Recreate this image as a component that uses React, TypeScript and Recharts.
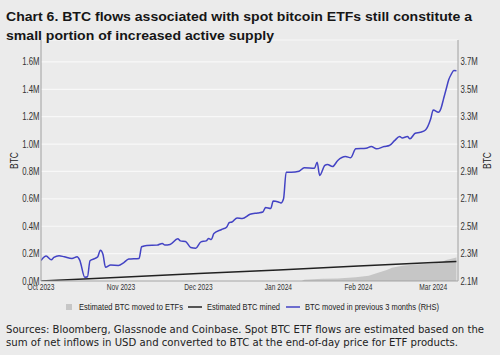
import { ComposedChart, Line, Area, XAxis, YAxis, CartesianGrid } from "recharts";

// values in millions of BTC
const monthTicks = ["2023-10-01", "2023-11-01", "2023-12-01", "2024-01-01", "2024-02-01", "2024-03-01"];
const monthLabels = ["Oct 2023", "Nov 2023", "Dec 2023", "Jan 2024", "Feb 2024", "Mar 2024"];
const leftTicks = [0, 0.2, 0.4, 0.6, 0.8, 1.0, 1.2, 1.4, 1.6];
const rightTicks = [2.1, 2.3, 2.5, 2.7, 2.9, 3.1, 3.3, 3.5, 3.7];

const activeDates = [
  "2023-10-01", "2023-10-03", "2023-10-05", "2023-10-06", "2023-10-08", "2023-10-10", "2023-10-13",
  "2023-10-15", "2023-10-16", "2023-10-18", "2023-10-19", "2023-10-20", "2023-10-22", "2023-10-23",
  "2023-10-24", "2023-10-25", "2023-10-26", "2023-10-28", "2023-10-31", "2023-11-02", "2023-11-04",
  "2023-11-08", "2023-11-09", "2023-11-11", "2023-11-15", "2023-11-17", "2023-11-18", "2023-11-20",
  "2023-11-23", "2023-11-24", "2023-11-26", "2023-11-28", "2023-11-30", "2023-12-02", "2023-12-04",
  "2023-12-05", "2023-12-06", "2023-12-07", "2023-12-10", "2023-12-12", "2023-12-13", "2023-12-14",
  "2023-12-16", "2023-12-18", "2023-12-21", "2023-12-24", "2023-12-26", "2023-12-27", "2023-12-29",
  "2023-12-30", "2024-01-01", "2024-01-02", "2024-01-03", "2024-01-04", "2024-01-06", "2024-01-09",
  "2024-01-11", "2024-01-15", "2024-01-16", "2024-01-17", "2024-01-19", "2024-01-20", "2024-01-22",
  "2024-01-24", "2024-01-27", "2024-01-29", "2024-01-31", "2024-02-04", "2024-02-06", "2024-02-08",
  "2024-02-11", "2024-02-13", "2024-02-15", "2024-02-17", "2024-02-18", "2024-02-20", "2024-02-21",
  "2024-02-23", "2024-02-25", "2024-02-27", "2024-02-29", "2024-03-01", "2024-03-03", "2024-03-04",
  "2024-03-05", "2024-03-06", "2024-03-07", "2024-03-08", "2024-03-09", "2024-03-10",
];
const activeValues = [
  2.25, 2.282, 2.255, 2.272, 2.284, 2.277, 2.265,
  2.277, 2.253, 2.127, 2.131, 2.248, 2.265, 2.277,
  2.325, 2.296, 2.2, 2.216, 2.214, 2.233, 2.26,
  2.265, 2.35, 2.36, 2.362, 2.374, 2.362, 2.367,
  2.408, 2.393, 2.389, 2.345, 2.34, 2.386, 2.393,
  2.41, 2.403, 2.447, 2.476, 2.495, 2.527, 2.531,
  2.56, 2.556, 2.587, 2.597, 2.604, 2.636, 2.629,
  2.684, 2.677, 2.67, 2.701, 2.895, 2.895, 2.902,
  2.927, 2.924, 2.968, 2.871, 2.944, 2.951, 2.936,
  2.98, 3.009, 3.0, 3.065, 3.069, 3.082, 3.065,
  3.082, 3.089, 3.125, 3.155, 3.145, 3.155, 3.138,
  3.179, 3.186, 3.203, 3.283, 3.349, 3.332, 3.36,
  3.43, 3.5, 3.57, 3.61, 3.638, 3.636,
];

const minedDates = ["2023-10-01", "2023-11-01", "2023-12-01", "2024-01-01", "2024-02-01", "2024-03-01", "2024-03-10"];
const minedValues = [0, 0.028, 0.054, 0.081, 0.109, 0.135, 0.143];

const etfDates = [
  "2024-01-10", "2024-01-11", "2024-01-18", "2024-01-24", "2024-01-31", "2024-02-05", "2024-02-08",
  "2024-02-12", "2024-02-14", "2024-02-18", "2024-02-23", "2024-02-29", "2024-03-04", "2024-03-06", "2024-03-10",
];
const etfValues = [0, 0.01, 0.017, 0.019, 0.027, 0.039, 0.056, 0.08, 0.097, 0.111, 0.121, 0.126, 0.136, 0.153, 0.172];

const DAY = 86400000;
const ts = (d: string) => Date.parse(d + "T00:00:00Z");
const xStart = ts("2023-10-01");
const xEnd = ts("2024-03-10") + 0.6 * DAY;
const monthTs = monthTicks.map(ts);

const activeData = activeDates.map((d, i) => ({ t: ts(d), v: activeValues[i] }));
const minedData = minedDates.map((d, i) => ({ t: ts(d), v: minedValues[i] }));
const etfData = etfDates.map((d, i) => ({ t: ts(d), v: etfValues[i] }));

const SANS = '"Liberation Sans", Arial, sans-serif';
const BLUE = "#4343c4";
const SQUEEZE = 0.78; // no narrow font installed, so squeeze Arial

const NarrowTick = (props: any) => {
  const { x, y, payload, anchor, dy, size, label } = props;
  return (
    <g transform={`translate(${x},${y})`}>
      <text
        transform={`scale(${SQUEEZE},1)`}
        textAnchor={anchor}
        dy={dy}
        fontFamily={SANS}
        fontSize={size}
        fill="#333"
      >
        {label(payload.value)}
      </text>
    </g>
  );
};

const fmtM = (v: number) => v.toFixed(1) + "M";
const fmtMonth = (v: number) => monthLabels[monthTs.indexOf(v)] ?? "";

const axisLabel = (x: number) => ({ viewBox }: any) => {
  const cy = viewBox.y + viewBox.height / 2;
  return (
    <text
      x={x}
      y={cy}
      transform={`rotate(-90 ${x} ${cy})`}
      textAnchor="middle"
      dominantBaseline="central"
      fontFamily={SANS}
      fontSize={10.5}
      textLength={17}
      lengthAdjust="spacingAndGlyphs"
      fill="#222"
    >
      BTC
    </text>
  );
};

export default function App() {
  return (
    <div
      style={{
        position: "fixed",
        top: 0,
        left: 0,
        width: 500,
        height: 355,
        background: "#ebebeb",
        overflow: "hidden",
      }}
    >
      <div style={{ position: "absolute", left: 0, top: 0 }}>
        <ComposedChart width={500} height={300} margin={{ top: 40, right: 0, bottom: 0, left: 0 }}>
          <CartesianGrid yAxisId="left" vertical={false} stroke="#f8f8f8" strokeWidth={1.2} />
          <XAxis
            dataKey="t"
            type="number"
            domain={[xStart, xEnd]}
            ticks={monthTs}
            interval={0}
            height={19}
            tickLine={false}
            tickSize={0}
            tickMargin={3}
            axisLine={{ stroke: "#a0a0a0" }}
            tick={(p: any) => <NarrowTick {...p} anchor="middle" dy="0.71em" size={8.5} label={fmtMonth} />}
            allowDataOverflow
          />
          <YAxis
            yAxisId="left"
            width={41}
            domain={[0, 1.76]}
            ticks={leftTicks}
            interval={0}
            tickLine={false}
            tickSize={0}
            tickMargin={1.5}
            axisLine={{ stroke: "#a0a0a0" }}
            tick={(p: any) => <NarrowTick {...p} anchor="end" dy="0.355em" size={10} label={fmtM} />}
            label={{ content: axisLabel(14) }}
            allowDataOverflow
          />
          <YAxis
            yAxisId="right"
            orientation="right"
            width={42}
            domain={[2.1, 3.86]}
            ticks={rightTicks}
            interval={0}
            tickLine={false}
            tickSize={0}
            tickMargin={2.5}
            axisLine={{ stroke: "#a0a0a0" }}
            tick={(p: any) => <NarrowTick {...p} anchor="start" dy="0.355em" size={10} label={fmtM} />}
            label={{ content: axisLabel(487) }}
            allowDataOverflow
          />
          <Area
            yAxisId="left"
            data={etfData}
            dataKey="v"
            type="linear"
            stroke="none"
            fill="#c6c6c6"
            fillOpacity={1}
            isAnimationActive={false}
          />
          <Line
            yAxisId="left"
            data={minedData}
            dataKey="v"
            type="linear"
            stroke="#222"
            strokeWidth={1.5}
            dot={false}
            isAnimationActive={false}
          />
          <Line
            yAxisId="right"
            data={activeData}
            dataKey="v"
            type="monotone"
            stroke={BLUE}
            strokeWidth={1.5}
            dot={false}
            isAnimationActive={false}
          />
        </ComposedChart>
      </div>

      <svg width={500} height={355} style={{ position: "absolute", left: 0, top: 0, pointerEvents: "none" }}>
        <g fontFamily={SANS} fontWeight="bold" fontSize={13.5} fill="#161616">
          <text x={6} y={21} textLength={466} lengthAdjust="spacingAndGlyphs">
            Chart 6. BTC flows associated with spot bitcoin ETFs still constitute a
          </text>
          <text x={6} y={40} textLength={268} lengthAdjust="spacingAndGlyphs">
            small portion of increased active supply
          </text>
        </g>

        <rect x={66} y={304} width={6} height={6} fill="#c6c6c6" />
        <line x1={188} x2={202} y1={307} y2={307} stroke="#222" strokeWidth={1.5} />
        <line x1={286} x2={300} y1={307} y2={307} stroke={BLUE} strokeWidth={1.5} />
        <g fontFamily={SANS} fontSize={9} fill="#222">
          <text x={79} y={310.3} textLength={104} lengthAdjust="spacingAndGlyphs">
            Estimated BTC moved to ETFs
          </text>
          <text x={207} y={310.3} textLength={73} lengthAdjust="spacingAndGlyphs">
            Estimated BTC mined
          </text>
          <text x={305} y={310.3} textLength={134} lengthAdjust="spacingAndGlyphs">
            BTC moved in previous 3 months (RHS)
          </text>
        </g>

        <g fontFamily='"DejaVu Sans", Verdana, sans-serif' fontSize={10} fill="#222">
          <text x={6} y={333.3} textLength={478} lengthAdjust="spacingAndGlyphs">
            Sources: Bloomberg, Glassnode and Coinbase. Spot BTC ETF flows are estimated based on the
          </text>
          <text x={6} y={346.3} textLength={452} lengthAdjust="spacingAndGlyphs">
            sum of net inflows in USD and converted to BTC at the end-of-day price for ETF products.
          </text>
        </g>
      </svg>
    </div>
  );
}
